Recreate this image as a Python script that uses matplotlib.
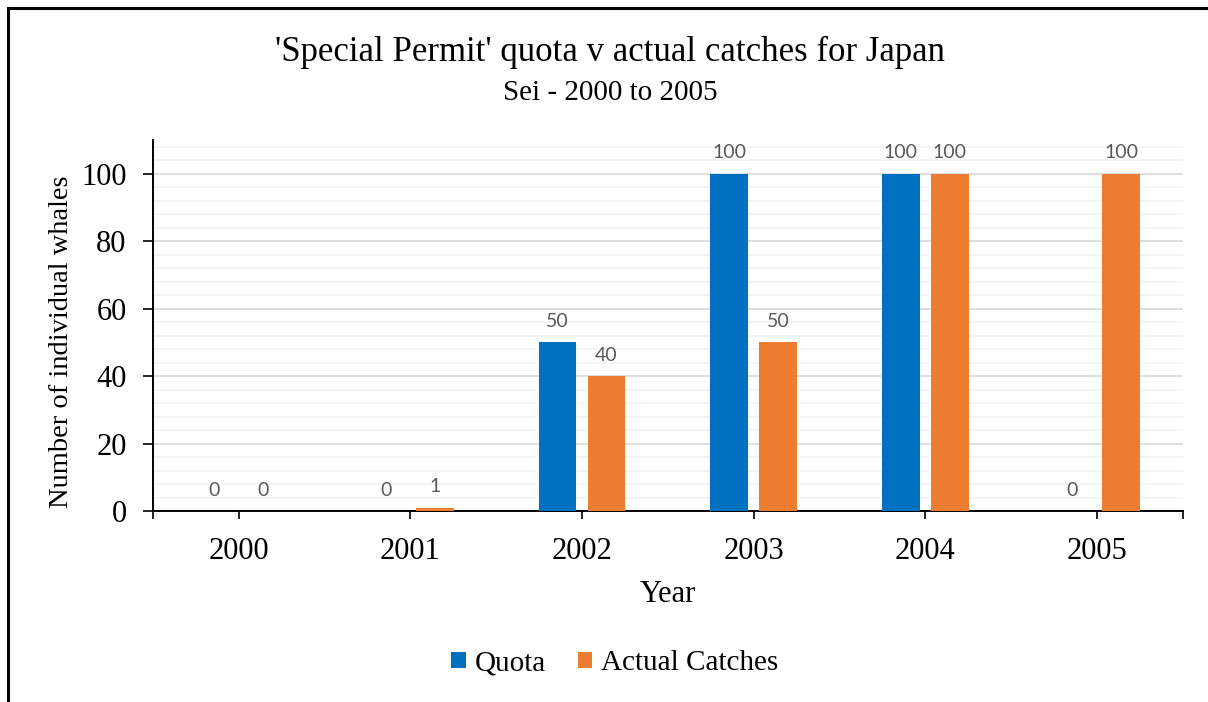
import matplotlib.pyplot as plt
from matplotlib.patches import Rectangle
from matplotlib.ticker import MultipleLocator
import numpy as np

# Data
years = ["2000", "2001", "2002", "2003", "2004", "2005"]
quota = [0, 0, 50, 100, 100, 0]
actual = [0, 1, 40, 50, 100, 100]

blue = "#0070C0"
orange = "#ED7D31"
serif = "Liberation Serif"

fig = plt.figure(figsize=(12.08, 7.02), dpi=100)
ax = fig.add_axes([0.1267, 0.272, 0.8523, 0.5286])

x = np.arange(len(years))
w = 0.22
off = 0.143
b1 = ax.bar(x - off, quota, w, color=blue, label="Quota", zorder=3)
b2 = ax.bar(x + off, actual, w, color=orange, label="Actual Catches", zorder=3)

for bars in (b1, b2):
    for rect in bars:
        h = rect.get_height()
        ax.annotate(f"{h:g}", (rect.get_x() + rect.get_width() / 2, h),
                    xytext=(0, 9), textcoords="offset points",
                    ha="center", va="bottom", fontsize=14,
                    family="Lato", color="#595959")

ax.set_xlim(-0.5, len(years) - 0.5)
ax.set_ylim(0, 110)
ax.yaxis.set_major_locator(MultipleLocator(20))
ax.yaxis.set_minor_locator(MultipleLocator(4))
ax.grid(axis="y", which="major", color="#d9d9d9", lw=1.2, zorder=0)
ax.grid(axis="y", which="minor", color="#f2f2f2", lw=1.2, zorder=0)
ax.tick_params(axis="y", which="minor", length=0)

ax.set_xticks(x)
ax.set_xticklabels(years, family=serif, fontsize=22)
ax.set_xticks([-0.5, len(years) - 0.5], minor=True)
ax.tick_params(axis="x", which="both", direction="out", length=6, width=1.2, pad=13)
ax.tick_params(axis="y", which="major", direction="out", length=7, width=1.2, pad=12,
               labelsize=22)
for lab in ax.get_yticklabels():
    lab.set_family(serif)

for s in ("top", "right"):
    ax.spines[s].set_visible(False)
for s in ("left", "bottom"):
    ax.spines[s].set_linewidth(1.4)

ax.set_xlabel("Year", family=serif, fontsize=22, labelpad=10)
ax.set_ylabel("Number of individual whales", family=serif, fontsize=20.5)
ax.yaxis.set_label_coords(-0.077, 0.455)

fig.text(0.505, 0.925, "'Special Permit' quota v actual catches for Japan",
         ha="center", va="center", family=serif, fontsize=25)
fig.text(0.505, 0.868, "Sei - 2000 to 2005", ha="center", va="center",
         family=serif, fontsize=21)

fig.legend(handles=[b1, b2], loc="center", bbox_to_anchor=(0.509, 0.055), ncol=2,
           frameon=False, prop={"family": serif, "size": 21},
           handlelength=0.5, handleheight=0.5, handletextpad=0.3, columnspacing=1.1)

# outer frame of the original screenshot
fig.add_artist(Rectangle((8 / 1208, -0.1), 1.2, 1.1 - 8 / 702,
                         transform=fig.transFigure, fill=False,
                         edgecolor="black", lw=2.2))

fig.savefig("out.png", dpi=100)
